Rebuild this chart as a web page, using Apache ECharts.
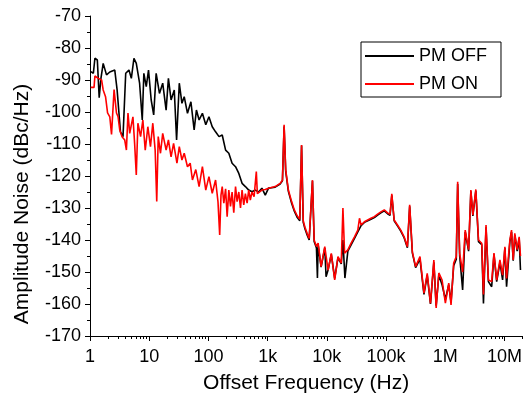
<!DOCTYPE html>
<html><head><meta charset="utf-8">
<script src="https://cdn.jsdelivr.net/npm/echarts@6/dist/echarts.min.js"></script>
<style>html,body{margin:0;padding:0;background:#fff}#c{width:525px;height:399px}</style>
</head><body><div id="c"></div><script>
// ---- data ----
const offFreq = [1.03,1.14,1.21,1.33,1.43,1.53,1.67,1.90,2.16,2.62,
2.87,3.27,3.61,4.01,4.55,4.99,5.52,6.05,6.88,7.63,
8.12,8.91,9.73,10.8,11.9,13.1,14.9,16.9,19.3,21.1,
23.4,26.5,29.0,32.2,35.7,39.0,44.3,50.6,57.4,62.7,
69.6,79.1,90.2,102,116,132,151,171,195,221,
251,287,326,370,421,479,544,620,704,800,
912,1035,1340,1625,1778,1897,2018,2239,2541,2823,
3170,3490,3741,3994,4266,4659,5032,5716,6104,6670,
6930,7122,7998,9226,9700,10480,11890,13560,15420,17510,
18680,20180,22630,25700,29310,33330,37820,43140,48980,55590,
63390,72050,81800,93280,105900,116700,125000,137000,155900,177000,
201800,229100,250500,277900,315600,374000,436500,495500,562300,641200,
701500,778000,883000,1004000,1145000,1251000,1387000,1534000,1619000,1750000,
1963000,2172000,2477000,2705000,2924000,3281000,3639000,4130000,4413000,4878000,
5347000,6077000,6642000,7379000,8375000,9289000,10160000,10840000,12330000,13150000,
14040000,14930000,16370000,17690000,18620000];
const offVal = [-87.4,-87.9,-83.2,-83.75,-95.5,-89.5,-84.8,-88.4,-87.5,-86.9,
-93.1,-106.2,-107.7,-87.9,-86.9,-89.5,-83.2,-84.8,-91,-102.5,
-87.9,-92.1,-86.9,-96.25,-100.9,-87.9,-94.2,-91,-99.4,-89.5,
-96.25,-93.1,-108.75,-91,-97.3,-95.2,-100.4,-96.8,-105.6,-99.4,
-102.5,-100.4,-104,-101.5,-104.6,-106.2,-107.7,-107.2,-111.9,-112.9,
-116,-117.1,-119.2,-122.3,-123.3,-124.4,-124.9,-124.4,-125,-123.8,
-126,-123.8,-123.5,-122.5,-121.5,-104.5,-118.5,-124.8,-128.5,-131,
-133,-134,-110.5,-134.5,-136.5,-138.5,-140,-121.5,-140.5,-142.5,
-151.9,-141.5,-148.5,-142.5,-151.5,-149.4,-144.5,-152,-145.5,-147.5,
-140,-151.9,-143.5,-141.5,-139.5,-137.5,-135.5,-134.5,-134,-133.5,
-133,-132.2,-131.5,-130.9,-131.8,-132.3,-126,-134,-135.6,-137.2,
-139.3,-142.4,-129.5,-144,-148.6,-146,-157,-151,-160,-147,
-160.5,-151,-154,-158.5,-154,-159.5,-148,-146,-122.5,-145,
-155.6,-137.5,-143.5,-124.8,-132.5,-124.6,-140.5,-141.5,-159.8,-136,
-153,-154.6,-144.5,-153,-147,-152.5,-142.5,-154.6,-140.5,-137.5,
-146.5,-138.5,-143.5,-139.5,-149.4];

const onFreq = [1.03,1.17,1.21,1.38,1.57,1.67,1.83,1.98,2.16,2.31,
2.55,2.80,2.98,3.18,3.48,3.86,4.12,4.38,4.68,5.31,
5.67,6.05,6.44,7.15,7.81,8.57,9.48,10.5,11.5,12.6,
13.4,14.2,15.5,16.9,19.3,21.1,23.4,25.8,29.4,32.2,
35.7,39.0,44.3,49.2,53.7,61.2,69.6,79.1,90.2,102,
116,132,145,155,163,171,182,195,207,221,
236,251,268,287,305,326,348,370,395,421,
450,479,510,544,590,644,670,704,800,912,
1035,1340,1625,1778,1897,2018,2239,2541,2823,3170,
3490,3741,3994,4266,4659,5032,5716,6104,6670,7122,
7998,9226,10480,11890,13560,15420,17510,18680,19930,22630,
25700,29310,33330,35560,37820,43140,48980,55590,63390,72050,
81800,93280,105900,116700,125000,137000,155900,177000,201800,229100,
250500,277900,315600,374000,436500,495500,562300,641200,701500,778000,
883000,1004000,1145000,1251000,1387000,1534000,1619000,1750000,1963000,2172000,
2477000,2705000,2924000,3281000,3639000,4130000,4413000,4878000,5347000,6077000,
6642000,7379000,8375000,9289000,10160000,10840000,12330000,13150000,14040000,14930000,
16370000,17690000,18620000];
const onVal = [-92.3,-92.3,-88.75,-89.5,-90,-93.1,-95.2,-100.3,-101.5,-107,
-93,-100.3,-101.5,-105.6,-107.7,-108.75,-111.9,-100.3,-106.7,-101.5,
-109.8,-119.7,-103.5,-107.7,-102.5,-111.9,-104.6,-110.8,-103.5,-111.9,
-128,-107.7,-112.9,-106.7,-111.9,-108.75,-114,-109.8,-116,-110.8,
-115,-112.9,-117.1,-116,-121.25,-118,-123.3,-117.1,-124.4,-120.2,
-125.4,-121.25,-128,-138.4,-126,-123.3,-128.5,-124,-132.7,-124.4,
-129.5,-125,-131.5,-123.3,-128,-125,-130,-124.4,-129,-125.5,
-128.5,-124.4,-127.5,-125,-126.5,-118.6,-125.5,-124.9,-124.4,-124.2,
-123.8,-123.3,-122.3,-121.3,-104,-118,-124.4,-128,-130.6,-132.5,
-133.5,-110.3,-134,-136,-138,-139.5,-121.3,-140,-142,-141,
-148.3,-142.1,-149.4,-144.2,-152.5,-145.2,-147.2,-130,-144.1,-143.1,
-141,-139,-136.9,-133.2,-135.3,-134.3,-133.75,-133.2,-132.7,-131.9,
-131.2,-130.6,-131.5,-132,-125.6,-133.75,-135.3,-136.9,-139,-142.1,
-129,-143.7,-148.3,-145.2,-156.6,-150.4,-159.8,-146.25,-161.25,-150.3,
-152.5,-159.7,-153.5,-160.3,-147.2,-145.2,-121.8,-144.2,-150,-136.9,
-143,-124.4,-132.2,-124.2,-140,-141,-157,-135.3,-152.5,-153,
-144.1,-152.5,-146.25,-151,-142.1,-152,-140,-136.9,-146.25,-137.9,
-143,-139,-145];

const seriesNames = ['PM OFF', 'PM ON'];
const xTickValues = [1,10,100,1000,10000,100000,1000000,10000000];
const xTickLabels = ['1','10','100','1k','10k','100k','1M','10M'];
const xMin = 1, xMax = 2e7;
const yMin = -170, yMax = -70, yStep = 10;

// minor ticks 2..9 of each decade
const xMinor = [];
for (let d = 0; d < 8; d++) for (let m = 2; m <= 9; m++) { const v = m * Math.pow(10, d); if (v <= xMax) xMinor.push(v); }

const FONT = 'Liberation Sans, Arial, sans-serif';
function pair(f, v) { const n = Math.min(f.length, v.length); const out = []; for (let i = 0; i < n; i++) out.push([f[i], v[i]]); return out; }
function fmtX(v) {
  for (let i = 0; i < xTickValues.length; i++) if (Math.abs(Math.log10(v) - Math.log10(xTickValues[i])) < 1e-6) return xTickLabels[i];
  return '';
}

const chart = echarts.init(document.getElementById('c'), null, {renderer: 'canvas'});
chart.setOption({
  animation: false,
  backgroundColor: '#fff',
  textStyle: {fontFamily: FONT},
  grid: {left: 90, top: 16, width: 436, height: 320, containLabel: false},
  legend: {
    left: 361, top: 42, orient: 'vertical',
    data: seriesNames,
    itemWidth: 49, itemHeight: 17, itemGap: 10,
    padding: [5, 14, 4, 3],
    borderColor: '#000', borderWidth: 1, borderRadius: 0,
    itemStyle: {opacity: 0},
    textStyle: {fontSize: 18, color: '#000', fontFamily: FONT}
  },
  xAxis: [{
    type: 'log', logBase: 10, min: xMin, max: xMax, position: 'bottom',
    axisLine: {show: true, onZero: false, lineStyle: {color: '#000', width: 1}},
    axisTick: {show: true, length: 5, customValues: xTickValues, lineStyle: {color: '#000', width: 1}},
    axisLabel: {customValues: xTickValues, formatter: fmtX, margin: 12, fontSize: 18, color: '#000', fontFamily: FONT},
    splitLine: {show: false},
    name: 'Offset Frequency (Hz)', nameLocation: 'middle', nameGap: 37,
    nameTextStyle: {fontSize: 21, color: '#000', fontFamily: FONT}
  }, {
    type: 'log', logBase: 10, min: xMin, max: xMax, position: 'bottom',
    axisLine: {show: false},
    axisTick: {show: true, length: 3, customValues: xMinor, lineStyle: {color: '#000', width: 1}},
    axisLabel: {show: false},
    splitLine: {show: false}
  }],
  yAxis: {
    type: 'value', min: yMin, max: yMax, interval: yStep,
    axisLine: {show: true, lineStyle: {color: '#000', width: 1}},
    axisTick: {show: true, length: 5, lineStyle: {color: '#000', width: 1}},
    minorTick: {show: true, splitNumber: 2, length: 3, lineStyle: {color: '#000', width: 1}},
    axisLabel: {margin: 9, fontSize: 18, color: '#000', fontFamily: FONT},
    splitLine: {show: false},
    name: 'Amplitude Noise (dBc/Hz)', nameLocation: 'middle', nameGap: 57,
    nameTextStyle: {fontSize: 21, color: '#000', fontFamily: FONT, padding: [0, 56, 0, 0]}
  },
  series: [
    {name: seriesNames[0], type: 'line', xAxisIndex: 0, data: pair(offFreq, offVal), symbol: 'none',
     lineStyle: {color: '#000', width: 1.6}, itemStyle: {color: '#000'}},
    {name: seriesNames[1], type: 'line', xAxisIndex: 0, data: pair(onFreq, onVal), symbol: 'none',
     lineStyle: {color: '#ff0000', width: 1.6}, itemStyle: {color: '#ff0000'}}
  ]
});
</script></body></html>
